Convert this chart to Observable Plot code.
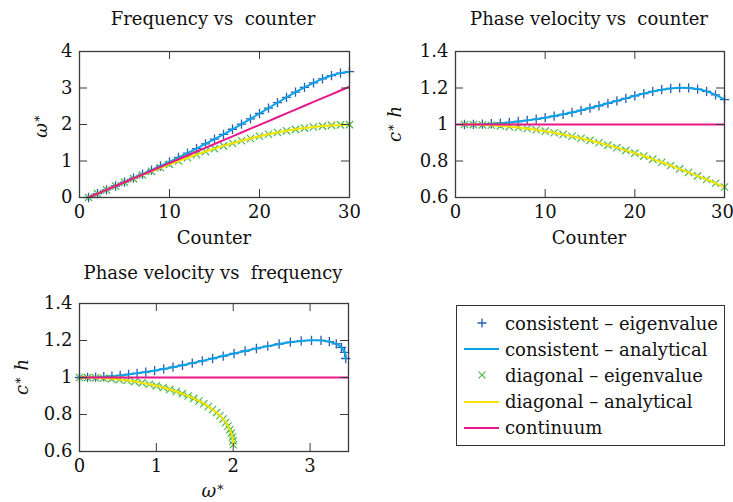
<!DOCTYPE html>
<html>
<head>
<meta charset="utf-8">
<script src="https://cdn.jsdelivr.net/npm/d3@7"></script>
<script src="https://cdn.jsdelivr.net/npm/@observablehq/plot@0.6"></script>
<style>
  html, body { margin: 0; padding: 0; background: #fff; }
  #root { position: relative; width: 733px; height: 502px; overflow: hidden; font-family: "DejaVu Serif", serif; color: #111; }
  .panel { position: absolute; }
  .txt { position: absolute; font-size: 18px; line-height: 1; white-space: pre; }
  .ctr { transform: translateX(-50%); }
  .rot { transform: translate(-50%, -50%) rotate(-90deg); }
  sup { font-size: 0.7em; vertical-align: 0.45em; line-height: 0; }
  #legend { position: absolute; left: 456px; top: 305px; width: 267px; height: 139px; border: 1px solid #333; }
  .row { position: absolute; left: 0; height: 26px; display: flex; align-items: center; }
  .row svg { width: 48px; height: 26px; }
  .row span { font-size: 18px; margin-left: 0px; white-space: nowrap; }
</style>
</head>
<body>
<div id="root"></div>
<script>
// ---- data (mode counter, dimensionless frequency and phase velocity) ----
const counter = [1,2,3,4,5,6,7,8,9,10,11,12,13,14,15,16,17,18,19,20,21,22,23,24,25,26,27,28,29,30,31];
const omegaContinuum = [0, 0.1047, 0.2094, 0.3142, 0.4189, 0.5236, 0.6283, 0.7330, 0.8378, 0.9425, 1.0472, 1.1519, 1.2566, 1.3614, 1.4661, 1.5708, 1.6755, 1.7802, 1.8850, 1.9897, 2.0944, 2.1991, 2.3038, 2.4086, 2.5133, 2.6180, 2.7227, 2.8274, 2.9322, 3.0369, 3.1416];
const omegaConsistent = [0, 0.1048, 0.2098, 0.3155, 0.4220, 0.5296, 0.6387, 0.7495, 0.8624, 0.9776, 1.0954, 1.2162, 1.3400, 1.4671, 1.5978, 1.7321, 1.8698, 2.0110, 2.1552, 2.3016, 2.4495, 2.5973, 2.7432, 2.8847, 3.0189, 3.1422, 3.2508, 3.3407, 3.4081, 3.4499, 3.4641];
const omegaDiagonal = [0, 0.1047, 0.2091, 0.3129, 0.4158, 0.5176, 0.6180, 0.7167, 0.8135, 0.9080, 1.0000, 1.0893, 1.1756, 1.2586, 1.3383, 1.4142, 1.4863, 1.5543, 1.6180, 1.6773, 1.7321, 1.7820, 1.8271, 1.8672, 1.9021, 1.9319, 1.9563, 1.9754, 1.9890, 1.9973, 2.0000];
const cConsistent = [1, 1.0005, 1.0018, 1.0041, 1.0073, 1.0115, 1.0165, 1.0225, 1.0294, 1.0373, 1.0461, 1.0558, 1.0663, 1.0777, 1.0899, 1.1027, 1.1160, 1.1296, 1.1433, 1.1568, 1.1695, 1.1811, 1.1907, 1.1977, 1.2012, 1.2002, 1.1940, 1.1815, 1.1623, 1.1360, 1.1027];
const cDiagonal = [1, 0.9995, 0.9982, 0.9959, 0.9927, 0.9886, 0.9836, 0.9778, 0.9710, 0.9634, 0.9549, 0.9456, 0.9355, 0.9246, 0.9128, 0.9003, 0.8871, 0.8731, 0.8584, 0.8430, 0.8270, 0.8103, 0.7931, 0.7752, 0.7568, 0.7379, 0.7185, 0.6987, 0.6784, 0.6577, 0.6366];
const cContinuum = [1];

const counterTicks = [0, 10, 20, 30];
const omegaTicks = [0, 1, 2, 3, 4];
const omegaTicksX = [0, 1, 2, 3];
const cTicks = [0.6, 0.8, 1, 1.2, 1.4];

const titles = ["Frequency vs  counter", "Phase velocity vs  counter", "Phase velocity vs  frequency"];
const legendLabels = ["consistent \u2013 eigenvalue", "consistent \u2013 analytical", "diagonal \u2013 eigenvalue", "diagonal \u2013 analytical", "continuum"];

const COL = {consEig: "#2a5db0", consAn: "#0aa3e8", diagEig: "#4cb848", diagAn: "#f5e400", cont: "#e8178a", frame: "#3a3a3a"};

const rows = counter.map((k, i) => ({
  counter: k,
  wCont: omegaContinuum[i], wCons: omegaConsistent[i], wDiag: omegaDiagonal[i],
  cCons: cConsistent[i], cDiag: cDiagonal[i]
}));

const root = document.getElementById("root");
const FONT = {fontFamily: "'DejaVu Serif', serif", fontSize: "18px", color: "#111", background: "transparent", overflow: "visible"};

function frameMarks(xt, yt, fw, fh, lastDx = 0, L = 8) {
  return [
    Plot.tickX(xt, {x: d => d, insetTop: fh - L, stroke: COL.frame, strokeWidth: 1}),
    Plot.tickX(xt, {x: d => d, insetBottom: fh - L, stroke: COL.frame, strokeWidth: 1}),
    Plot.tickY(yt, {y: d => d, insetRight: fw - L, stroke: COL.frame, strokeWidth: 1}),
    Plot.tickY(yt, {y: d => d, insetLeft: fw - L, stroke: COL.frame, strokeWidth: 1}),
    Plot.axisX(xt.slice(0, -1), {tickSize: 0, tickPadding: 8, label: null, tickFormat: d => String(d)}),
    Plot.axisX(xt.slice(-1), {tickSize: 0, tickPadding: 8, label: null, dx: lastDx, tickFormat: d => String(d)}),
    Plot.axisY(yt, {tickSize: 0, tickPadding: 7, label: null, tickFormat: d => String(d)}),
    Plot.frame({stroke: COL.frame, strokeWidth: 1.3})
  ];
}

function consistentMarks(xk, yk, filt) {
  return [
    Plot.dot(rows, {x: xk, y: yk, symbol: "plus", r: 3.1, stroke: COL.consEig, strokeWidth: 1.3, filter: filt}),
    Plot.line(rows, {x: xk, y: yk, stroke: COL.consAn, strokeWidth: 2, curve: "catmull-rom", clip: true})
  ];
}
function diagonalMarks(xk, yk, filt) {
  return [
    Plot.dot(rows, {x: xk, y: yk, symbol: "times", r: 3.4, stroke: COL.diagEig, strokeWidth: 1.2, filter: filt}),
    Plot.line(rows, {x: xk, y: yk, stroke: COL.diagAn, strokeWidth: 2, curve: "catmull-rom", clip: true})
  ];
}

function place(svg, left, top) {
  const d = document.createElement("div");
  d.className = "panel";
  d.style.left = left + "px"; d.style.top = top + "px";
  d.appendChild(svg);
  root.appendChild(d);
}
function text(html, x, y, cls) {
  const d = document.createElement("div");
  d.className = "txt " + cls;
  d.style.left = x + "px"; d.style.top = y + "px";
  d.innerHTML = html;
  root.appendChild(d);
}

const inCounter = d => d.counter <= counterTicks[counterTicks.length - 1];

// Panel 1: frequency vs counter
const p1 = Plot.plot({
  width: 366, height: 250, marginLeft: 79, marginRight: 17, marginTop: 51, marginBottom: 53,
  style: FONT,
  x: {domain: [0, 30]}, y: {domain: [0, 4]},
  marks: [
    ...consistentMarks("counter", "wCons", inCounter),
    ...diagonalMarks("counter", "wDiag", inCounter),
    Plot.line(rows, {x: "counter", y: "wCont", stroke: COL.cont, strokeWidth: 2, clip: true}),
    ...frameMarks(counterTicks, omegaTicks, 270, 146)
  ]
});
place(p1, 0, 0);

// Panel 2: phase velocity vs counter
const p2 = Plot.plot({
  width: 367, height: 250, marginLeft: 89, marginRight: 9, marginTop: 51, marginBottom: 53,
  style: FONT,
  x: {domain: [0, 30]}, y: {domain: [0.6, 1.4]},
  marks: [
    ...consistentMarks("counter", "cCons", inCounter),
    ...diagonalMarks("counter", "cDiag", inCounter),
    Plot.ruleY(cContinuum, {y: d => d, stroke: COL.cont, strokeWidth: 2}),
    ...frameMarks(counterTicks, cTicks, 269, 146, -2)
  ]
});
place(p2, 366, 0);

// Panel 3: phase velocity vs frequency
const p3 = Plot.plot({
  width: 366, height: 252, marginLeft: 79, marginRight: 18, marginTop: 53, marginBottom: 51,
  style: FONT,
  x: {domain: [0, 3.5]}, y: {domain: [0.6, 1.4]},
  marks: [
    ...consistentMarks("wCons", "cCons", null),
    ...diagonalMarks("wDiag", "cDiag", null),
    Plot.ruleY(cContinuum, {y: d => d, stroke: COL.cont, strokeWidth: 2}),
    ...frameMarks(omegaTicksX, cTicks, 269, 148)
  ]
});
place(p3, 0, 250);

// Titles and axis labels
text(titles[0], 213, 10, "ctr");
text(titles[1], 589, 10, "ctr");
text(titles[2], 213, 264, "ctr");
text("Counter", 214, 229, "ctr");
text("Counter", 589, 229, "ctr");
text("<i>\u03c9</i><sup>\u2217</sup>", 213, 482, "ctr");
text("<i>\u03c9</i><sup>\u2217</sup>", 41, 126, "rot");
text("<i>c</i><sup>\u2217</sup> <i>h</i>", 395, 124, "rot");
text("<i>c</i><sup>\u2217</sup> <i>h</i>", 22, 377, "rot");

// Legend
const legend = document.createElement("div");
legend.id = "legend";
root.appendChild(legend);
const swatches = [
  `<path d="M25,8.5 V17.5 M20.5,13 H29.5" stroke="${COL.consEig}" stroke-width="1.3" fill="none"/>`,
  `<line x1="7" x2="42" y1="13" y2="13" stroke="${COL.consAn}" stroke-width="2"/>`,
  `<path d="M21.6,9.6 L28.4,16.4 M21.6,16.4 L28.4,9.6" stroke="${COL.diagEig}" stroke-width="1.2" fill="none"/>`,
  `<line x1="7" x2="42" y1="13" y2="13" stroke="${COL.diagAn}" stroke-width="2"/>`,
  `<line x1="7" x2="42" y1="13" y2="13" stroke="${COL.cont}" stroke-width="2"/>`
];
legendLabels.forEach((lab, i) => {
  const r = document.createElement("div");
  r.className = "row";
  r.style.top = (4 + i * 26.2) + "px";
  r.innerHTML = `<svg viewBox="0 0 48 26">${swatches[i]}</svg><span>${lab}</span>`;
  legend.appendChild(r);
});
</script>
</body>
</html>
